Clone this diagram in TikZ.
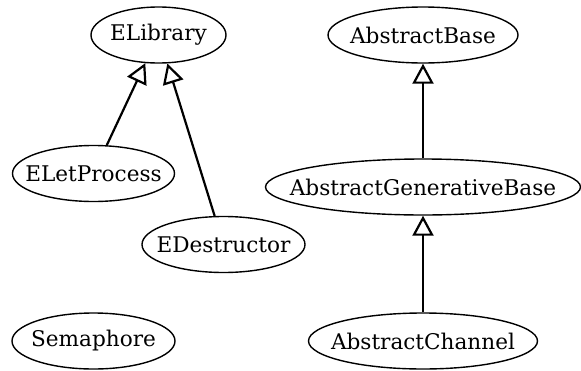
\documentclass[tikz,border=0pt]{standalone}
\usepackage{fontspec}
\setmainfont{DejaVu Serif}
\usetikzlibrary{arrows.meta,shapes.geometric}

\newcommand{\clsname}[1]{\makebox[0pt]{#1}}

\begin{document}
\begin{tikzpicture}[
  x=1pt, y=-1pt,
  font=\fontsize{21.6}{26}\selectfont,
  >={Triangle[open, length=20pt, width=21pt]},
  cls/.style={draw, ellipse, line width=1.4pt, inner sep=0pt, minimum height=56pt},
  inherit/.style={->, line width=2.2pt}
]
  \useasboundingbox (0,0) rectangle (581,370);

  % left tree
  \node[cls, minimum width=135pt] (elib) at (158.5,35) {\clsname{ELibrary}};
  \node[cls, minimum width=162pt] (elet) at (93.5,173.5) {\clsname{ELetProcess}};
  \node[cls, minimum width=163pt] (edes) at (223.5,244.5) {\clsname{EDestructor}};
  \node[cls, minimum width=163pt] (sema) at (93.5,341) {\clsname{Semaphore}};

  % right tree
  \node[cls, minimum width=190pt] (abase) at (423,35) {\clsname{AbstractBase}};
  \node[cls, minimum width=315pt] (agen) at (423,187) {\clsname{AbstractGenerativeBase}};
  \node[cls, minimum width=229pt] (achan) at (423,341) {\clsname{AbstractChannel}};

  \draw[inherit] (elet) -- (elib);
  \draw[inherit] (edes) -- (elib);
  \draw[inherit] (agen) -- (abase);
  \draw[inherit] (achan) -- (agen);
\end{tikzpicture}
\end{document}
